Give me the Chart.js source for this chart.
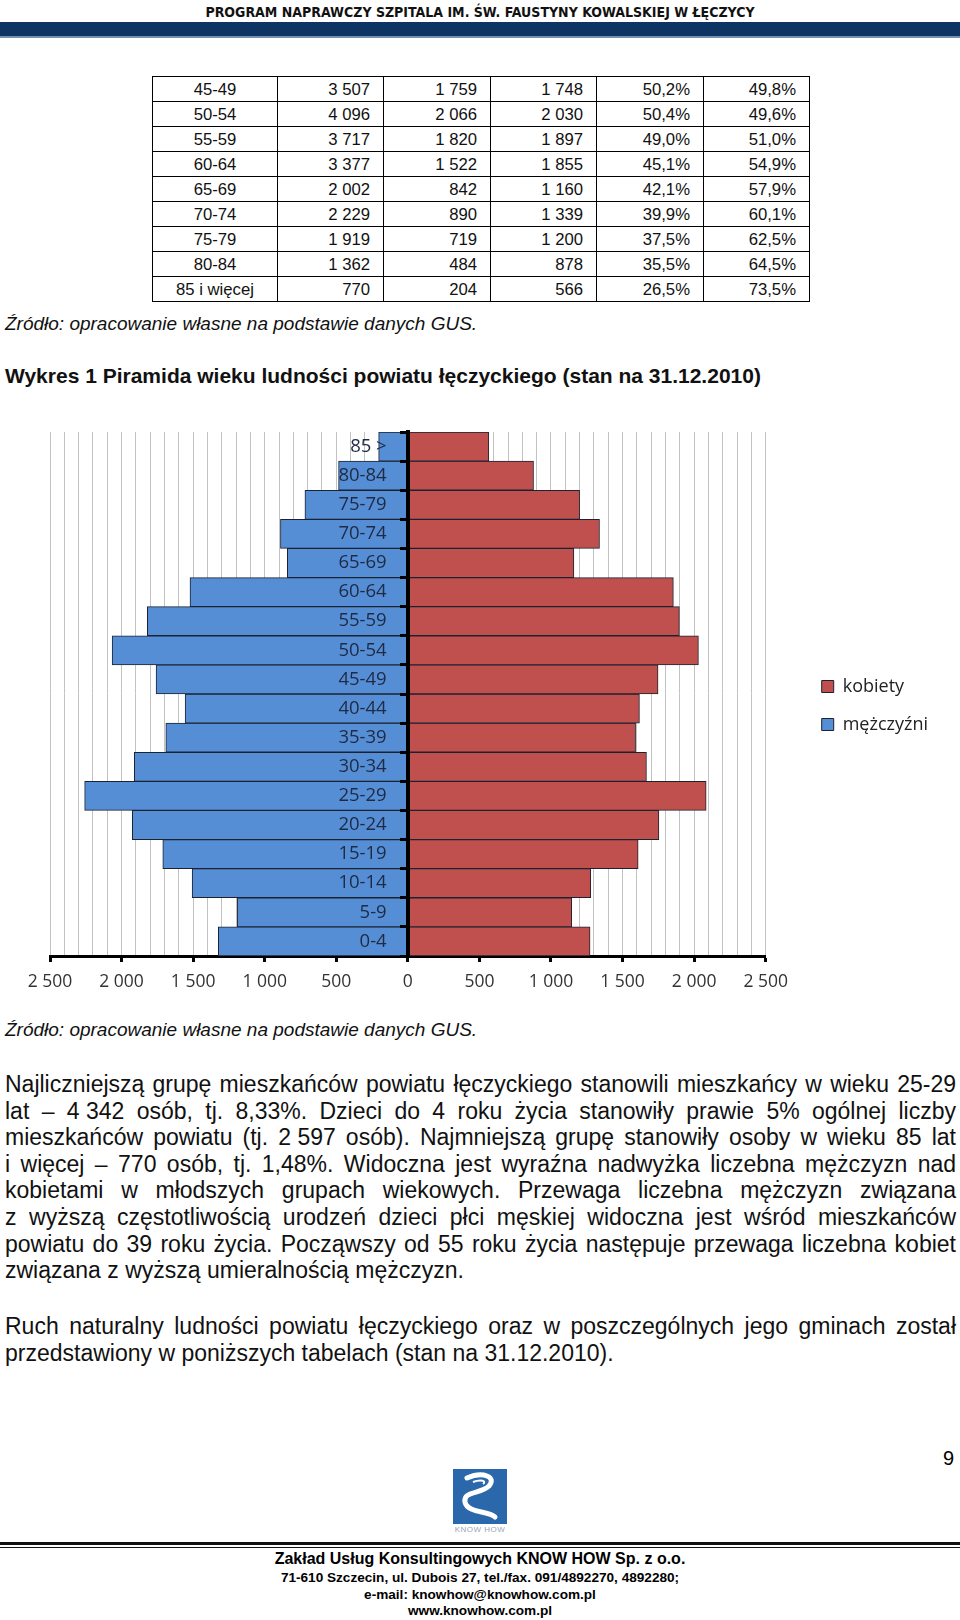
<!DOCTYPE html>
<html lang="pl">
<head>
<meta charset="utf-8">
<title>Piramida wieku ludności powiatu łęczyckiego</title>
<script src="https://cdn.jsdelivr.net/npm/chart.js@4.4.1/dist/chart.umd.min.js"></script>
<style>
  html, body { margin: 0; padding: 0; background: #fff; }
  body { width: 960px; height: 1620px; position: relative; overflow: hidden;
         font-family: "Liberation Sans", Arial, sans-serif; color: #000; }
  .abs { position: absolute; }
  #header { left: 0; top: 4px; width: 960px; text-align: center; font-family: "Liberation Sans Narrow", "DejaVu Sans Condensed", sans-serif;
            font-weight: bold; font-size: 14px; color: #111; }
  #band { left: 0; top: 22px; width: 960px; height: 14px; background: #0d3463; border-bottom: 2px solid #7090b8; }
  #ageTable { position: absolute; left: 152px; top: 76px; border-collapse: collapse; table-layout: fixed; width: 657px;
              font-size: 16.7px; color: #111; }
  #ageTable td { border: 1px solid #000; height: 22px; line-height: 22px; padding: 2px 13px 0 0; text-align: right; white-space: nowrap; }
  #ageTable td:first-child { text-align: center; padding: 2px 0 0 0; }
  .src { left: 5px; font-style: italic; font-size: 19px; color: #111; }
  #caption { left: 5px; top: 364px; font-weight: bold; font-size: 21px; color: #111; }
  #chartBox { left: 0; top: 400px; width: 960px; height: 604px; }
  .para { left: 5px; width: 951px; font-size: 23px; line-height: 26.6px; color: #111; }
  .para .j { text-align: justify; text-align-last: justify; }
  .nb { display: inline-block; }
  #pageNo { right: 6px; top: 1447px; font-size: 20px; }
  #logo { left: 453px; top: 1469px; width: 54px; height: 55px; background: #2a67ab; }
  #logoText { left: 445px; top: 1525px; width: 70px; text-align: center; font-size: 8px; color: #9aa5b5; letter-spacing: 0.5px; }
  #rule1 { left: 0; top: 1542px; width: 960px; height: 3px; background: #111; }
  #rule2 { left: 0; top: 1547px; width: 960px; height: 1px; background: #111; }
  .foot { left: 0; width: 960px; text-align: center; font-weight: bold; color: #000; }
</style>
</head>
<body>

<div id="header" class="abs">PROGRAM NAPRAWCZY SZPITALA IM. ŚW. FAUSTYNY KOWALSKIEJ W ŁĘCZYCY</div>
<div id="band" class="abs"></div>

<table id="ageTable">
  <colgroup>
    <col style="width:125px"><col style="width:106px"><col style="width:107px">
    <col style="width:106px"><col style="width:107px"><col style="width:106px">
  </colgroup>
  <tbody id="tableBody"></tbody>
</table>

<div class="abs src" style="top:313px">Źródło: opracowanie własne na podstawie danych GUS.</div>
<div id="caption" class="abs">Wykres 1 Piramida wieku ludności powiatu łęczyckiego (stan na 31.12.2010)</div>

<div id="chartBox" class="abs"><canvas id="pyramid"></canvas></div>

<div class="abs src" style="top:1019px">Źródło: opracowanie własne na podstawie danych GUS.</div>

<div class="abs para" style="top:1071px">
  <div class="j">Najliczniejszą grupę mieszkańców powiatu łęczyckiego stanowili mieszkańcy w wieku 25-29</div>
  <div class="j">lat – <span class="nb">4 342</span> osób, tj. 8,33%. Dzieci do 4 roku życia stanowiły prawie 5% ogólnej liczby</div>
  <div class="j">mieszkańców powiatu (tj. <span class="nb">2 597</span> osób). Najmniejszą grupę stanowiły osoby w wieku 85 lat</div>
  <div class="j">i więcej – 770 osób, tj. 1,48%. Widoczna jest wyraźna nadwyżka liczebna mężczyzn nad</div>
  <div class="j">kobietami w młodszych grupach wiekowych. Przewaga liczebna mężczyzn związana</div>
  <div class="j">z wyższą częstotliwością urodzeń dzieci płci męskiej widoczna jest wśród mieszkańców</div>
  <div class="j">powiatu do 39 roku życia. Począwszy od 55 roku życia następuje przewaga liczebna kobiet</div>
  <div>związana z wyższą umieralnością mężczyzn.</div>
</div>

<div class="abs para" style="top:1313px">
  <div class="j">Ruch naturalny ludności powiatu łęczyckiego oraz w poszczególnych jego gminach został</div>
  <div>przedstawiony w poniższych tabelach (stan na 31.12.2010).</div>
</div>

<div id="pageNo" class="abs">9</div>

<div id="logo" class="abs">
  <svg width="54" height="55" viewBox="0 0 54 55">
    <path d="M14 9 C30 2 44 8 36 17 C28 25 10 22 12 33 C14 44 36 42 42 48" fill="none" stroke="#fff" stroke-width="5" stroke-linecap="round"/>
    <path d="M20 13 C28 10 34 12 30 15" fill="none" stroke="#fff" stroke-width="2"/>
  </svg>
</div>
<div id="logoText" class="abs">KNOW HOW</div>

<div id="rule1" class="abs"></div>
<div id="rule2" class="abs"></div>

<div class="abs foot" style="top:1550px; font-size:16px">Zakład Usług Konsultingowych KNOW HOW Sp. z o.o.</div>
<div class="abs foot" style="top:1570px; font-size:13.6px">71-610 Szczecin, ul. Dubois 27, tel./fax. 091/4892270, 4892280;</div>
<div class="abs foot" style="top:1587px; font-size:13.6px">e-mail: knowhow@knowhow.com.pl</div>
<div class="abs foot" style="top:1603px; font-size:13.6px">www.knowhow.com.pl</div>

<script>
// ============================================
// DATA
// ============================================
// table (continuation from previous page)
const tableAges = ['45-49', '50-54', '55-59', '60-64', '65-69', '70-74', '75-79', '80-84', '85 i więcej'];
const tableTotal = ['3 507', '4 096', '3 717', '3 377', '2 002', '2 229', '1 919', '1 362', '770'];
const tableMen = ['1 759', '2 066', '1 820', '1 522', '842', '890', '719', '484', '204'];
const tableWomen = ['1 748', '2 030', '1 897', '1 855', '1 160', '1 339', '1 200', '878', '566'];
const tableMenPct = ['50,2%', '50,4%', '49,0%', '45,1%', '42,1%', '39,9%', '37,5%', '35,5%', '26,5%'];
const tableWomenPct = ['49,8%', '49,6%', '51,0%', '54,9%', '57,9%', '60,1%', '62,5%', '64,5%', '73,5%'];

// pyramid (bottom to top)
const ageGroups = ['0-4', '5-9', '10-14', '15-19', '20-24', '25-29', '30-34', '35-39', '40-44',
                   '45-49', '50-54', '55-59', '60-64', '65-69', '70-74', '75-79', '80-84', '85 >'];
const menCounts = [1324, 1191, 1507, 1712, 1925, 2258, 1911, 1691, 1556,
                   1759, 2066, 1820, 1522, 842, 890, 719, 484, 204];
const womenCounts = [1273, 1145, 1278, 1609, 1754, 2084, 1667, 1591, 1618,
                     1748, 2030, 1897, 1855, 1160, 1339, 1200, 878, 566];
const axisLimit = 2500;
const gridStep = 100;
const labelStep = 500;

// ============================================
// TABLE
// ============================================
const tbody = document.getElementById('tableBody');
tableAges.forEach((age, i) => {
    const tr = document.createElement('tr');
    [age, tableTotal[i], tableMen[i], tableWomen[i], tableMenPct[i], tableWomenPct[i]].forEach(v => {
        const td = document.createElement('td');
        td.textContent = v;
        tr.appendChild(td);
    });
    tbody.appendChild(tr);
});

// ============================================
// CHART
// ============================================
function formatThousands(v) {
    return String(Math.abs(Math.round(v))).replace(/\B(?=(\d{3})+(?!\d))/g, ' ');
}

// legend sits a bit further right and higher than Chart.js puts it
const legendNudge = {
    id: 'legendNudge',
    afterLayout(chart) {
        const lg = chart.legend;
        if (!lg) return;
        lg.left += 36; lg.right += 36;
        lg.top -= 12; lg.bottom -= 12;
    }
};

const labelFont = { family: 'Open Sans', size: 18 };
// Chart.js ignores ticks.padding for an axis pinned to a value, so the gap
// between the age labels and the zero line comes from two figure spaces
const labelGap = '\u2007\u2007';

new Chart(document.getElementById('pyramid'), {
    type: 'bar',
    data: {
        labels: ageGroups,
        datasets: [
            {
                label: 'mężczyźni',
                data: menCounts.map(v => -v),
                backgroundColor: '#558ED5',
                borderColor: '#1b2230',
                borderWidth: 1,
                categoryPercentage: 1,
                barPercentage: 1
            },
            {
                label: 'kobiety',
                data: womenCounts,
                backgroundColor: '#C0504D',
                borderColor: '#1b2230',
                borderWidth: 1,
                categoryPercentage: 1,
                barPercentage: 1
            }
        ]
    },
    options: {
        indexAxis: 'y',
        responsive: true,
        maintainAspectRatio: false,
        animation: false,
        layout: { padding: { top: 32, left: 50, right: 58, bottom: 1 } },
        plugins: {
            legend: {
                position: 'right',
                reverse: true,
                labels: { boxWidth: 12, boxHeight: 12, padding: 20, color: '#222', font: labelFont }
            },
            tooltip: { enabled: false }
        },
        scales: {
            x: {
                type: 'linear',
                min: -axisLimit,
                max: axisLimit,
                stacked: true,
                grid: {
                    color: '#c2c2c2',
                    lineWidth: 1,
                    drawTicks: true,
                    tickLength: 6,
                    tickWidth: 3,
                    tickColor: ctx => (ctx.tick && ctx.tick.value % labelStep === 0) ? '#000' : 'rgba(0,0,0,0)'
                },
                border: { display: true, color: '#000', width: 3 },
                ticks: {
                    stepSize: gridStep,
                    autoSkip: false,
                    maxRotation: 0,
                    minRotation: 0,
                    padding: 10,
                    color: '#333',
                    font: { family: 'Open Sans', size: 17.5 },
                    callback: v => (v % labelStep === 0) ? formatThousands(v) : ''
                }
            },
            y: {
                type: 'category',
                reverse: true,
                stacked: true,
                position: { x: 0 },
                grid: {
                    display: true,
                    z: 1,
                    drawOnChartArea: false,
                    drawTicks: true,
                    offset: true,
                    tickLength: 6,
                    tickWidth: 3,
                    tickColor: '#000'
                },
                border: { display: true, z: 2, color: '#000', width: 4 },
                ticks: {
                    z: 2,
                    autoSkip: false,
                    color: '#1f2a44',
                    font: { family: 'Open Sans', size: 18.5 },
                    callback: function (v) { return this.getLabelForValue(v) + labelGap; }
                }
            }
        }
    },
    plugins: [legendNudge]
});
</script>
</body>
</html>
